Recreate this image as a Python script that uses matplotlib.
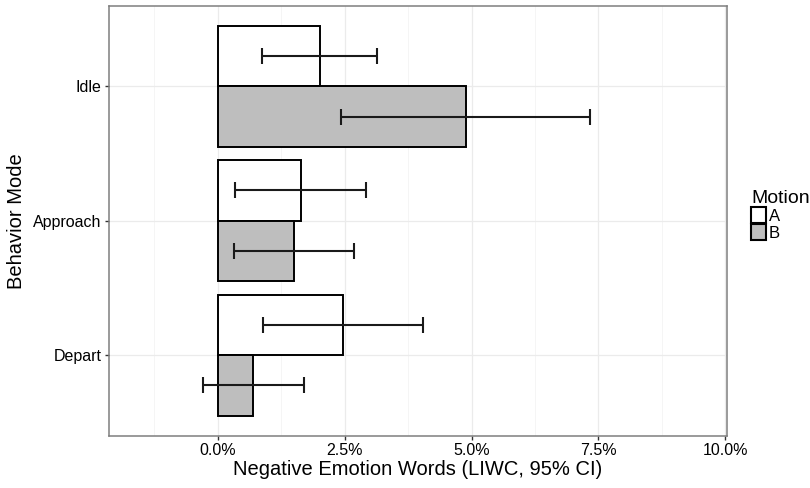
import numpy as np
import matplotlib
matplotlib.use("Agg")
import matplotlib.pyplot as plt
from matplotlib.patches import Patch
from matplotlib.ticker import FixedLocator, FuncFormatter

plt.rcParams['font.family'] = ['Liberation Sans', 'DejaVu Sans']

# data (percent of words)
modes = ['Depart', 'Approach', 'Idle']
motion_levels = ['A', 'B']
mean_a = [2.47, 1.64, 2.01]
lo_a = [0.90, 0.34, 0.87]
hi_a = [4.04, 2.93, 3.14]
mean_b = [0.70, 1.50, 4.89]
lo_b = [-0.30, 0.32, 2.42]
hi_b = [1.69, 2.69, 7.34]

fills = {'A': 'white', 'B': '#bebebe'}

fig = plt.figure(figsize=(8.1, 4.88), dpi=100)
ax = fig.add_axes([108.7 / 810, 1 - 435.7 / 488, (727.3 - 108.7) / 810, (435.7 - 5.7) / 488])

y = np.arange(1, len(modes) + 1)
h = 0.45

for off, mean, lo, hi, lev in [(h / 2, mean_a, lo_a, hi_a, 'A'), (-h / 2, mean_b, lo_b, hi_b, 'B')]:
    mean = np.array(mean)
    ax.barh(y + off, mean, height=h, color=fills[lev], edgecolor='black', linewidth=1.4, zorder=3)
    xerr = np.vstack([mean - np.array(lo), np.array(hi) - mean])
    ax.errorbar(mean, y + off, xerr=xerr, fmt='none', ecolor='#1a1a1a', elinewidth=1.5,
                capsize=6, capthick=1.5, zorder=4)

ax.set_xlim(-2.15, 10.04)
ax.set_ylim(0.4, 3.6)

major = [0, 2.5, 5, 7.5, 10]
ax.xaxis.set_major_locator(FixedLocator(major))
ax.xaxis.set_minor_locator(FixedLocator([-1.25, 1.25, 3.75, 6.25, 8.75]))
ax.xaxis.set_major_formatter(FuncFormatter(lambda v, p: '%.1f%%' % v))
ax.set_yticks(y)
ax.set_yticklabels(modes)

ax.grid(True, which='major', color='#ebebeb', linewidth=0.9, zorder=0)
ax.grid(True, which='minor', axis='x', color='#f4f4f4', linewidth=0.6, zorder=0)
ax.set_axisbelow(True)

for s in ax.spines.values():
    s.set_color('#7f7f7f')
    s.set_linewidth(1.1)

ax.tick_params(axis='both', which='major', length=3, width=1, color='#333333',
               labelsize=11.5, labelcolor='black', pad=2)
ax.tick_params(axis='x', which='minor', length=0)

ax.set_xlabel('Negative Emotion Words (LIWC, 95% CI)', fontsize=14.5, labelpad=2)
ax.set_ylabel('Behavior Mode', fontsize=14.5, labelpad=5)

handles = [Patch(facecolor=fills[l], edgecolor='black', linewidth=1.5) for l in motion_levels]
leg = fig.legend(handles, motion_levels, title='Motion', loc='upper left',
                 bbox_to_anchor=(751 / 810, 1 - 190 / 488), frameon=False,
                 fontsize=12, title_fontsize=14, borderpad=0, borderaxespad=0,
                 handlelength=0.92, handleheight=1.12, labelspacing=0.0,
                 handletextpad=0.15, alignment='left')

fig.savefig('out.png', dpi=100)
